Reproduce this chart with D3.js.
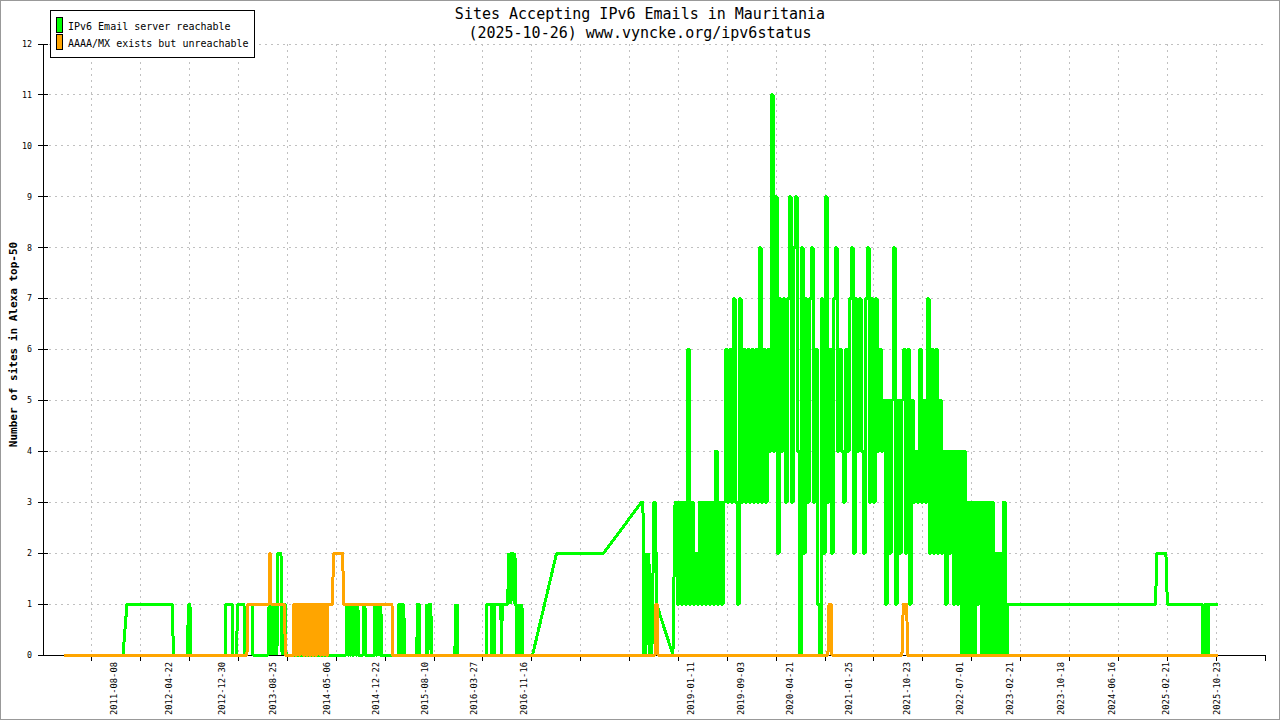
<!DOCTYPE html>
<html lang="en">
<head>
<meta charset="UTF-8" />
<title>Sites Accepting IPv6 Emails in Mauritania</title>
<script src="https://d3js.org/d3.v7.min.js"></script>
<style>
  body { margin: 0; background: #fff; }
  svg { display: block; font-family: "DejaVu Sans Mono", "Liberation Mono", monospace; }
  .grid line { stroke: #c0c0c0; stroke-dasharray: 2,4; shape-rendering: crispEdges; }
  .axis line { stroke: #000; shape-rendering: crispEdges; }
  .series { fill: none; stroke-width: 3; stroke-linejoin: bevel; shape-rendering: crispEdges; }
</style>
</head>
<body>
<svg id="chart" width="1280" height="720"></svg>
<script>
const titleLines = ["Sites Accepting IPv6 Emails in Mauritania", "(2025-10-26) www.vyncke.org/ipv6status"];
const yLabel = "Number of sites in Alexa top-50";
const seriesNames = ["IPv6 Email server reachable", "AAAA/MX exists but unreachable"];
const seriesColors = ["#00ff00", "#ffa500"];
const yTicks = [0, 1, 2, 3, 4, 5, 6, 7, 8, 9, 10, 11, 12];
const xDomain = ["2010-09-10", "2026-06-04"];
const xTickCount = 25;
const xLabels = ["2011-08-08", "2012-04-22", "2012-12-30", "2013-08-25", "2014-05-06", "2014-12-22",
  "2015-08-10", "2016-03-27", "2016-11-16", "2019-01-11", "2019-09-03", "2020-04-21", "2021-01-25",
  "2021-10-23", "2022-07-01", "2023-02-21", "2023-10-18", "2024-06-16", "2025-02-21", "2025-10-23"];

// reachable: change points, plus dense runs of evenly spaced samples
const reachableSteps = [
  ["2010-12-18",0],["2011-09-21",0],["2011-10-10",1],["2012-05-09",1],["2012-05-16",0],
  ["2012-07-20",0],["2012-07-25",1],["2012-08-01",1],["2012-08-06",0],
  ["2013-01-13",0],["2013-01-17",1],["2013-02-15",1],["2013-02-19",0],
  ["2013-03-08",0],["2013-03-13",1],["2013-04-12",1],["2013-04-17",0],
  ["2013-04-26",0],["2013-05-01",1],["2013-05-20",1],["2013-05-24",0],
  ["2013-08-03",0],["2013-08-08",1],["2013-08-17",0],["2013-08-22",1],["2013-08-31",0],["2013-09-05",1],
  ["2013-09-14",0],["2013-09-19",2],["2013-10-03",2],["2013-10-08",0],["2013-10-13",1],["2013-10-22",1],["2013-10-27",0],
  ["2014-08-05",0],["2014-10-02",0],
  ["2014-10-24",0],["2014-10-26",1],["2014-11-02",1],["2014-11-04",0],
  ["2014-12-17",0],["2015-01-18",0],
  ["2015-04-09",0],["2015-05-06",0],
  ["2015-07-04",0],["2015-07-06",1],["2015-07-16",1],["2015-07-18",0],
  ["2015-08-16",0],["2015-08-18",1],["2015-08-25",0],["2015-08-29",1],["2015-09-08",1],["2015-09-10",0],
  ["2015-12-30",0],["2016-01-01",1],["2016-01-06",0],["2016-01-11",1],["2016-01-13",0],
  ["2016-05-26",0],["2016-05-28",1],["2016-06-17",1],["2016-06-19",0],["2016-06-21",1],["2016-06-30",1],
  ["2016-07-03",0],["2016-07-05",1],["2016-08-02",1],["2016-08-04",0],["2016-08-09",1],["2016-09-04",1],
  ["2016-09-06",2],["2016-09-14",1],["2016-09-18",2],["2016-09-28",2],["2016-10-03",1],["2016-10-07",2],
  ["2016-10-12",1],["2016-10-17",0],["2016-10-21",1],["2016-10-26",0],["2016-10-31",1],["2016-11-04",0],
  ["2016-11-09",1],["2016-11-14",0],
  ["2016-12-29",0],["2017-04-21",2],["2017-11-28",2],["2018-05-25",3],["2018-06-01",3],["2018-06-06",0],
  ["2018-06-10",2],["2018-06-15",0],["2018-06-20",2],["2018-06-24",1],["2018-06-29",2],["2018-07-04",0],
  ["2018-07-08",1],["2018-07-13",0],["2018-07-23",3],["2018-07-30",3],["2018-08-04",1],["2018-10-20",0],
  ["2025-01-05",1],["2025-01-12",2],["2025-02-23",2],["2025-03-02",1],["2025-08-12",1],["2025-08-14",0],
  ["2025-08-21",0],["2025-08-24",1],["2025-08-31",1],["2025-09-02",0],["2025-09-09",0],["2025-09-11",1],
  ["2025-10-26",1]
];
const reachableDense = [
  { from: "2014-08-09", to: "2014-09-30", values: [1,0,1,0,1,0,1,1,0,1,1] },
  { from: "2014-12-19", to: "2015-01-16", values: [1,0,1,0,1,1,0,1] },
  { from: "2015-04-11", to: "2015-05-04", values: [1,0,1,1,0,1] },
  { from: "2018-10-30", to: "2023-02-07", values: [
    3,1,3,1,3,1,6,1,3,1,2,1,3,1,3,1,3,1,3,1,4,1,3,1,3,
    6,3,6,3,7,3,1,7,3,6,3,6,3,6,3,6,3,8,3,6,3,6,4,11,4,
    9,2,7,4,7,3,7,9,3,8,9,4,0,8,2,7,3,7,8,3,6,1,0,7,2,
    9,3,6,2,7,8,4,6,4,3,6,4,7,8,2,7,4,7,4,2,7,8,3,7,3,
    7,4,6,4,5,1,5,2,5,8,1,5,2,5,6,2,6,1,5,3,4,3,6,3,5,
    3,7,2,6,2,6,2,5,2,4,1,4,2,4,1,4,1,4,0,4,0,3,0,3,0,
    3,1,3,0,3,0,3,0,3,0,2,0,2,0,3,0,1] }
];

// unreachable
const unreachableSteps = [
  ["2010-12-18",0],["2013-04-26",0],["2013-05-01",1],["2013-08-08",1],["2013-08-10",2],["2013-08-15",2],
  ["2013-08-17",1],["2013-10-19",1],["2013-10-24",0],
  ["2013-12-01",0],["2014-05-19",1],["2014-06-02",1],["2014-06-07",2],["2014-07-21",2],["2014-07-23",1],
  ["2015-03-09",1],["2015-03-11",0],
  ["2018-07-28",0],["2018-07-30",1],["2018-08-08",1],["2018-08-10",0],
  ["2020-10-18",0],["2020-10-20",0.5],["2020-10-23",1],["2020-11-03",1],["2020-11-05",0],
  ["2021-10-01",0],["2021-10-03",0.5],["2021-10-08",1],["2021-10-24",1],["2021-10-26",0],
  ["2025-10-26",0]
];
const unreachableDense = [
  { from: "2013-12-03", to: "2014-05-17", values: [1,0,1,0,1,1,0,1,0,1,0,1,0,1,0,1,1,0,1,0,1,0,1,1] }
];

const parse = d3.utcParse("%Y-%m-%d");

// dense samples hold their value until the next sample (vertical transitions)
function build(steps, dense) {
  const pts = steps.map(([d, v]) => ({ date: parse(d), value: v }));
  dense.forEach(r => {
    const a = parse(r.from), b = parse(r.to), n = r.values.length;
    const at = i => new Date(+a + (b - a) * i / (n - 1));
    r.values.forEach((v, i) => {
      pts.push({ date: at(i), value: v, k: 0 });
      if (i < n - 1) pts.push({ date: at(i + 1), value: v, k: -1 });
    });
  });
  return pts.sort((p, q) => (p.date - q.date) || ((p.k || 0) - (q.k || 0)));
}

const series = [build(reachableSteps, reachableDense), build(unreachableSteps, unreachableDense)];

const plotLeft = 43, plotRight = 1265, plotTop = 44, plotBottom = 655;
const svg = d3.select("#chart");

const x = d3.scaleUtc().domain(xDomain.map(parse)).range([plotLeft, plotRight]);
const y = d3.scaleLinear().domain([0, 12]).range([plotBottom, plotTop]);

const [x0, x1] = x.domain();
const xTicks = d3.range(0, xTickCount + 1).map(k => new Date(+x0 + (x1 - x0) * k / xTickCount));

// frame
svg.append("rect")
  .attr("x", 0.5).attr("y", 0.5).attr("width", 1279).attr("height", 719)
  .attr("fill", "#fff").attr("stroke", "#999");

// grid
const grid = svg.append("g").attr("class", "grid");
grid.selectAll(".h").data(yTicks.slice(1)).join("line")
  .attr("x1", plotLeft).attr("x2", plotRight)
  .attr("y1", d => y(d)).attr("y2", d => y(d));
grid.selectAll(".v").data(xTicks.slice(1, -1)).join("line")
  .attr("x1", d => x(d)).attr("x2", d => x(d))
  .attr("y1", plotTop).attr("y2", plotBottom);

// axes
const axis = svg.append("g").attr("class", "axis");
axis.append("line").attr("x1", plotLeft).attr("x2", plotLeft).attr("y1", plotTop).attr("y2", plotBottom);
axis.append("line").attr("x1", plotLeft).attr("x2", plotRight).attr("y1", plotBottom).attr("y2", plotBottom);
axis.selectAll(".yt").data(yTicks).join("line").attr("class", "yt")
  .attr("x1", plotLeft - 5).attr("x2", plotLeft + 5)
  .attr("y1", d => y(d)).attr("y2", d => y(d));
axis.selectAll(".xt").data(xTicks.slice(1)).join("line").attr("class", "xt")
  .attr("x1", d => x(d)).attr("x2", d => x(d))
  .attr("y1", plotBottom).attr("y2", plotBottom + 6);

svg.append("g").selectAll("text").data(yTicks).join("text")
  .attr("x", plotLeft - 11).attr("y", d => y(d)).attr("dy", "0.35em")
  .attr("text-anchor", "end").attr("font-size", 8.3)
  .text(d => d);

svg.append("g").selectAll("text").data(xLabels).join("text")
  .attr("transform", d => `translate(${x(parse(d))},${plotBottom + 7}) rotate(-90)`)
  .attr("dy", "0.35em").attr("text-anchor", "end").attr("font-size", 8.8)
  .text(d => d);

// series
const line = d3.line().x(d => x(d.date)).y(d => y(d.value));
svg.append("g").selectAll("path").data(series).join("path")
  .attr("class", "series")
  .attr("stroke", (d, i) => seriesColors[i])
  .attr("d", line);

// titles
svg.append("g").selectAll("text").data(titleLines).join("text")
  .attr("x", 640).attr("y", (d, i) => 14 + i * 18.5).attr("dy", "0.35em")
  .attr("text-anchor", "middle").attr("font-size", 15)
  .text(d => d);

svg.append("text")
  .attr("transform", `translate(13,${(plotTop + plotBottom) / 2 - 5}) rotate(-90)`)
  .attr("dy", "0.35em").attr("text-anchor", "middle")
  .attr("font-size", 11).attr("font-weight", "bold")
  .text(yLabel);

// legend
const legend = svg.append("g");
legend.append("rect")
  .attr("x", 50.5).attr("y", 10.5).attr("width", 204).attr("height", 47)
  .attr("fill", "#fff").attr("stroke", "#000");
const item = legend.selectAll("g").data(seriesNames).join("g")
  .attr("transform", (d, i) => `translate(0,${i * 17})`);
item.append("rect")
  .attr("x", 56.5).attr("y", 17.5).attr("width", 6).attr("height", 15)
  .attr("fill", (d, i) => seriesColors[i]).attr("stroke", "#000");
item.append("text")
  .attr("x", 68).attr("y", 26).attr("dy", "0.35em").attr("font-size", 10)
  .text(d => d);
</script>
</body>
</html>
